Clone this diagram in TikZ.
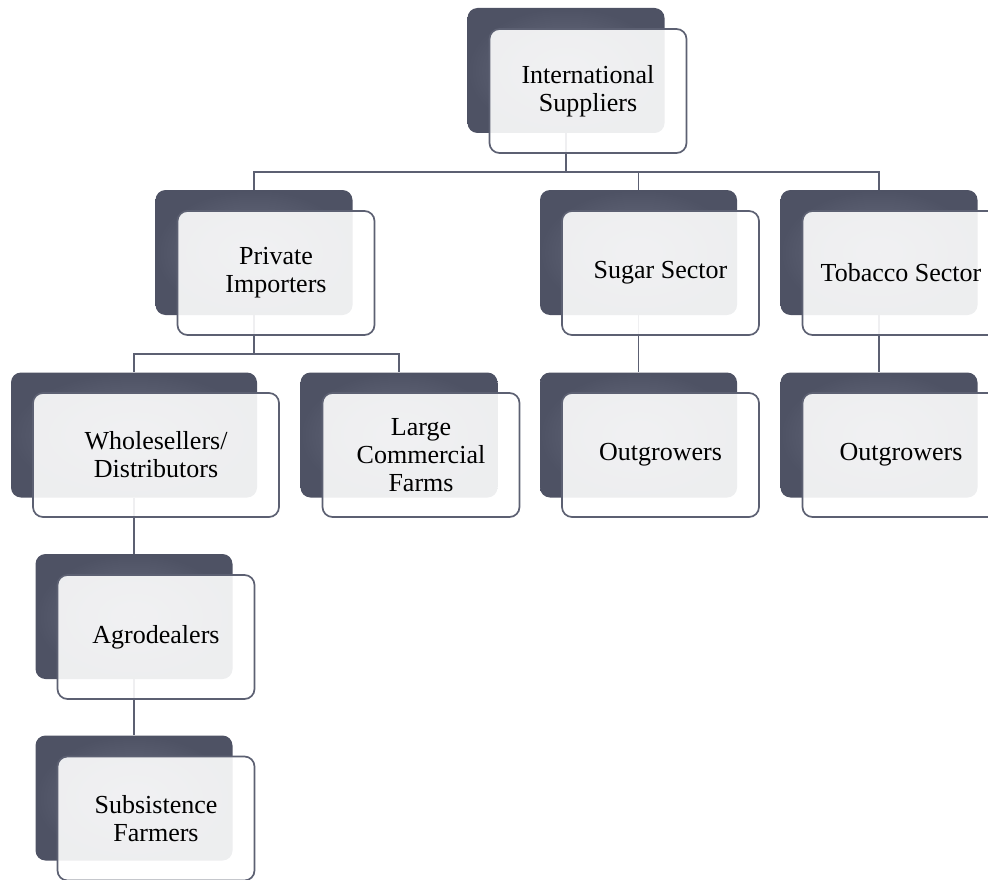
\documentclass[tikz,border=0pt]{standalone}
\usepackage{fontspec}
\setmainfont{Liberation Serif}
\definecolor{backout}{HTML}{4E5264}
\definecolor{backin}{HTML}{6D7183}
\definecolor{edge}{HTML}{5C6072}
\begin{document}
\begin{tikzpicture}[x=1pt,y=-1pt,
  backbox/.style={rounded corners=10pt, minimum height=125pt, inner sep=0pt,
    inner color=backin, outer color=backout},
  frontbox/.style={rounded corners=10pt, minimum height=124pt, inner sep=0pt,
    draw=edge, line width=1.7pt, fill=white, fill opacity=0.9, text opacity=1,
    align=center, font=\fontsize{26}{28}\selectfont},
  conn/.style={draw=edge, line width=1.7pt}]
\useasboundingbox (0,0) rectangle (988,880);

% back boxes
\node[backbox, minimum width=197pt] (bIS) at (566,70.5) {};
\node[backbox, minimum width=197pt] (bPI) at (254,252.5) {};
\node[backbox, minimum width=197pt] (bSS) at (638.5,252.5) {};
\node[backbox, minimum width=197pt] (bTS) at (879,252.5) {};
\node[backbox, minimum width=246pt] (bWD) at (134,435) {};
\node[backbox, minimum width=197pt] (bLC) at (399,435) {};
\node[backbox, minimum width=197pt] (bSO) at (638.5,435) {};
\node[backbox, minimum width=197pt] (bTO) at (879,435) {};
\node[backbox, minimum width=197pt] (bAG) at (134,616.5) {};
\node[backbox, minimum width=197pt] (bSF) at (134,798) {};

% connectors
\draw[conn] (bIS.south) -- ++(0,39) -| (bPI.north);
\draw[conn] (bIS.south) -- ++(0,39) -| (bSS.north);
\draw[conn] (bIS.south) -- ++(0,39) -| (bTS.north);
\draw[conn] (bPI.south) -- ++(0,39) -| (bWD.north);
\draw[conn] (bPI.south) -- ++(0,39) -| (bLC.north);
\draw[conn] (bSS.south) -- (bSO.north);
\draw[conn] (bTS.south) -- (bTO.north);
\draw[conn] (bWD.south) -- (bAG.north);
\draw[conn] (bAG.south) -- (bSF.north);

% front boxes
\node[frontbox, minimum width=197pt] (IS) at (588,91) {International\\Suppliers};
\node[frontbox, minimum width=197pt] (PI) at (276,273) {Private\\Importers};
\node[frontbox, minimum width=197pt] (SS) at (660.5,273) {Sugar Sector};
\node[frontbox, minimum width=197pt] (TS) at (901,273) {Tobacco Sector};
\node[frontbox, minimum width=246pt] (WD) at (156,455) {Wholesellers/\\Distributors};
\node[frontbox, minimum width=197pt] (LC) at (421,455) {Large\\Commercial\\Farms};
\node[frontbox, minimum width=197pt] (SO) at (660.5,455) {Outgrowers};
\node[frontbox, minimum width=197pt] (TO) at (901,455) {Outgrowers};
\node[frontbox, minimum width=197pt] (AG) at (156,637) {Agrodealers};
\node[frontbox, minimum width=197pt] (SF) at (156,818.5) {Subsistence\\Farmers};
\end{tikzpicture}
\end{document}
